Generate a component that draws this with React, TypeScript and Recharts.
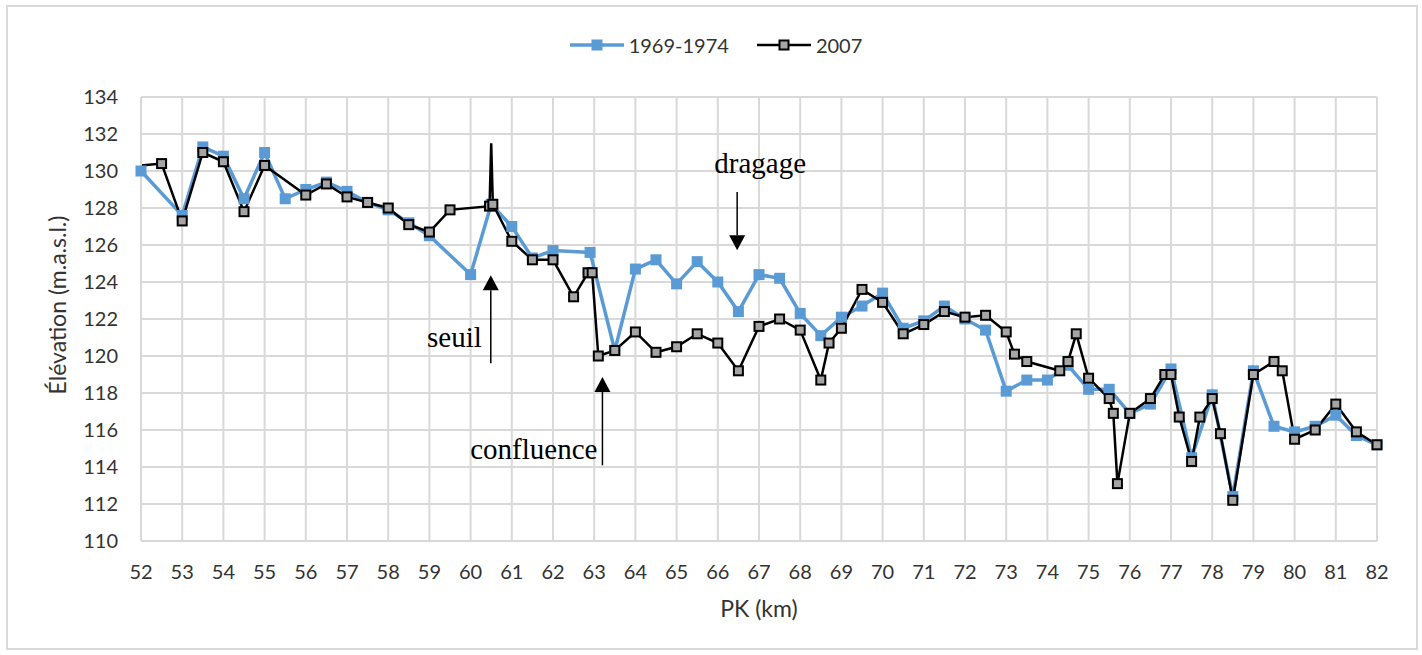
import React from 'react'
import { LineChart, Line, XAxis, YAxis, CartesianGrid, Legend, ReferenceLine } from 'recharts'

// profil 1969-1974
const KM_1969 = [
  52, 53, 53.5, 54, 54.5, 55, 55.5, 56, 56.5, 57,
  57.5, 58, 58.5, 59, 60, 60.5, 61, 61.5, 62, 62.9,
  63.5, 64, 64.5, 65, 65.5, 66, 66.5, 67, 67.5, 68,
  68.5, 69, 69.5, 70, 70.5, 71, 71.5, 72, 72.5, 73,
  73.5, 74, 74.5, 75, 75.5, 76, 76.5, 77, 77.5, 78,
  78.5, 79, 79.5, 80, 80.5, 81, 81.5, 82,
]
const ELEV_1969 = [
  130.0, 127.6, 131.3, 130.8, 128.5, 131.0, 128.5, 129.0, 129.4, 128.9,
  128.3, 127.9, 127.2, 126.5, 124.4, 128.2, 127.0, 125.3, 125.7, 125.6,
  120.3, 124.7, 125.2, 123.9, 125.1, 124.0, 122.4, 124.4, 124.2, 122.3,
  121.1, 122.1, 122.7, 123.4, 121.5, 121.9, 122.7, 122.0, 121.4, 118.1,
  118.7, 118.7, 119.5, 118.2, 118.2, 116.9, 117.4, 119.3, 114.5, 117.9,
  112.4, 119.2, 116.2, 115.9, 116.2, 116.8, 115.7, 115.2,
]

// profil 2007
const KM_2007 = [
  52, 52.5, 53, 53.5, 54, 54.5, 55,
  56, 56.5, 57, 57.5, 58, 58.5, 59, 59.5,
  60.46, 60.5, 60.54,
  61, 61.5, 62, 62.5,
  62.85, 62.95, 63.1, 63.5,
  64, 64.5, 65, 65.5, 66, 66.5,
  67, 67.5, 68, 68.5, 68.7,
  69, 69.5, 70, 70.5, 71, 71.5, 72, 72.5, 73,
  73.2, 73.5, 74.3, 74.5, 74.7,
  75, 75.5, 75.6, 75.7, 76,
  76.5, 76.85, 77, 77.2, 77.5, 77.7,
  78, 78.2, 78.5,
  79, 79.5, 79.7,
  80, 80.5, 81, 81.5, 82,
]
const ELEV_2007 = [
  130.3, 130.4, 127.3, 131.0, 130.5, 127.8, 130.3,
  128.7, 129.3, 128.6, 128.3, 128.0, 127.1, 126.7, 127.9,
  128.1, 131.5, 128.2,
  126.2, 125.2, 125.2, 123.2,
  124.5, 124.5, 120.0, 120.3,
  121.3, 120.2, 120.5, 121.2, 120.7, 119.2,
  121.6, 122.0, 121.4, 118.7, 120.7,
  121.5, 123.6, 122.9, 121.2, 121.7, 122.4, 122.1, 122.2, 121.3,
  120.1, 119.7, 119.2, 119.7, 121.2,
  118.8, 117.7, 116.9, 113.1, 116.9,
  117.7, 119.0, 119.0, 116.7, 114.3, 116.7,
  117.7, 115.8, 112.2,
  119.0, 119.7, 119.2,
  115.5, 116.0, 117.4, 115.9, 115.2,
]
// points 2007 dessinés sans marqueur (début et pic)
const NO_MARKER_KM = [52, 60.5]

const X_TICKS = Array.from({ length: 31 }, (_, i) => 52 + i)
const Y_TICKS = [110, 112, 114, 116, 118, 120, 122, 124, 126, 128, 130, 132, 134]

const SERIES_NAMES = ['1969-1974', '2007']

const data1969 = KM_1969.map((km, i) => ({ km, elev: ELEV_1969[i] }))
const data2007 = KM_2007.map((km, i) => ({ km, elev: ELEV_2007[i] }))

const BLUE = '#5B9BD5'
const GRAY = '#A5A5A5'
const GRID = '#D9D9D9'
const FONT = 'Lato, "Open Sans", sans-serif'
const SERIF = '"Liberation Serif", "DejaVu Serif", serif'

// annotations : flèche de (x, yFrom) vers (x, yTo), texte décalé en px
const NOTES = [
  { text: 'dragage', x: 66.47, yFrom: 128.86, yTo: 125.72, dx: 23, dy: -19, anchor: 'middle' },
  { text: 'seuil', x: 60.49, yFrom: 119.61, yTo: 124.37, dx: -9, dy: -16, anchor: 'end' },
  { text: 'confluence', x: 63.2, yFrom: 114.09, yTo: 118.87, dx: -5, dy: -6, anchor: 'end' },
]

function arrowShape(note: (typeof NOTES)[number]) {
  return (p: any) => {
    const { x1, y1, x2, y2 } = p
    const dir = y2 > y1 ? 1 : -1
    const head = 15
    const half = 8
    return (
      <g>
        <line x1={x1} y1={y1} x2={x2} y2={y2 - dir * head} stroke="#000" strokeWidth={1.5} />
        <polygon
          points={`${x2},${y2} ${x2 - half},${y2 - dir * head} ${x2 + half},${y2 - dir * head}`}
          fill="#000"
        />
        <text
          x={x1 + note.dx}
          y={y1 + note.dy}
          textAnchor={note.anchor as any}
          fontFamily={SERIF}
          fontSize={29}
          fill="#000"
        >
          {note.text}
        </text>
      </g>
    )
  }
}

function BlueDot(props: any) {
  const { cx, cy, index } = props
  if (cx == null || cy == null) return <g key={`b${index}`} />
  return <rect key={`b${index}`} x={cx - 5.5} y={cy - 5.5} width={11} height={11} fill={BLUE} />
}

function BlackDot(props: any) {
  const { cx, cy, index, payload } = props
  if (cx == null || cy == null || NO_MARKER_KM.includes(payload.km)) return <g key={`k${index}`} />
  return (
    <rect key={`k${index}`} x={cx - 4.5} y={cy - 4.5} width={9} height={9} fill={GRAY} stroke="#000" strokeWidth={2} />
  )
}

function LegendBox() {
  const item = (name: string, color: string, blue: boolean) => (
    <div key={name} style={{ display: 'flex', alignItems: 'center', marginRight: 27 }}>
      <svg width={56} height={14}>
        <line x1={1} y1={7} x2={55} y2={7} stroke={color} strokeWidth={blue ? 3.5 : 2.5} />
        {blue ? (
          <rect x={22.5} y={1.5} width={11} height={11} fill={BLUE} />
        ) : (
          <rect x={23.5} y={2.5} width={9} height={9} fill={GRAY} stroke="#000" strokeWidth={2} />
        )}
      </svg>
      <span style={{ marginLeft: 4 }}>{name}</span>
    </div>
  )
  return (
    <div
      style={{
        display: 'flex',
        justifyContent: 'center',
        paddingLeft: 36,
        fontFamily: FONT,
        fontSize: 20,
        color: '#333',
        lineHeight: '24px',
      }}
    >
      {item(SERIES_NAMES[0], BLUE, true)}
      {item(SERIES_NAMES[1], '#000', false)}
    </div>
  )
}

export default function App() {
  return (
    <div style={{ position: 'absolute', left: 0, top: 0, width: 1422, height: 655, background: '#fff' }}>
      <div
        style={{
          position: 'absolute',
          left: 6,
          top: 5,
          width: 1412,
          height: 645,
          border: `2px solid ${GRID}`,
          boxSizing: 'border-box',
        }}
      />
      <LineChart width={1422} height={655} margin={{ top: 97, right: 45, bottom: 0, left: 0 }}>
        <CartesianGrid stroke={GRID} strokeWidth={2} />
        <XAxis
          dataKey="km"
          type="number"
          domain={[52, 82]}
          ticks={X_TICKS}
          interval={0}
          height={114}
          axisLine={{ stroke: GRID, strokeWidth: 2 }}
          tickLine={false}
          tickMargin={18}
          tick={{ fontFamily: FONT, fontSize: 20, fill: '#333' }}
          label={(p: any) => {
            const vb = p.viewBox
            return (
              <text x={vb.x + vb.width / 2} y={vb.y + 76} textAnchor="middle" fontFamily={FONT} fontSize={23} fill="#333">
                PK (km)
              </text>
            )
          }}
        />
        <YAxis
          type="number"
          domain={[110, 134]}
          ticks={Y_TICKS}
          interval={0}
          width={141}
          axisLine={{ stroke: GRID, strokeWidth: 2 }}
          tickLine={false}
          tickMargin={17}
          tick={{ fontFamily: FONT, fontSize: 20, fill: '#333' }}
          label={(p: any) => {
            const vb = p.viewBox
            const x = vb.x + 57
            const y = 305
            return (
              <text
                x={x}
                y={y}
                transform={`rotate(-90, ${x}, ${y})`}
                textAnchor="middle"
                dominantBaseline="central"
                fontFamily={FONT}
                fontSize={23}
                fill="#333"
              >
                Élévation (m.a.s.l.)
              </text>
            )
          }}
        />
        <Legend
          verticalAlign="middle"
          layout="horizontal"
          content={() => <LegendBox />}
          wrapperStyle={{ position: 'absolute', top: 33, left: 0, width: 1422 }}
        />
        <Line
          data={data1969}
          dataKey="elev"
          name={SERIES_NAMES[0]}
          type="linear"
          stroke={BLUE}
          strokeWidth={3.5}
          dot={BlueDot}
          activeDot={false}
          isAnimationActive={false}
        />
        <Line
          data={data2007}
          dataKey="elev"
          name={SERIES_NAMES[1]}
          type="linear"
          stroke="#000"
          strokeWidth={2.5}
          dot={BlackDot}
          activeDot={false}
          isAnimationActive={false}
        />
        {NOTES.map((n) => (
          <ReferenceLine
            key={n.text}
            segment={[
              { x: n.x, y: n.yFrom },
              { x: n.x, y: n.yTo },
            ]}
            shape={arrowShape(n)}
          />
        ))}
      </LineChart>
    </div>
  )
}
